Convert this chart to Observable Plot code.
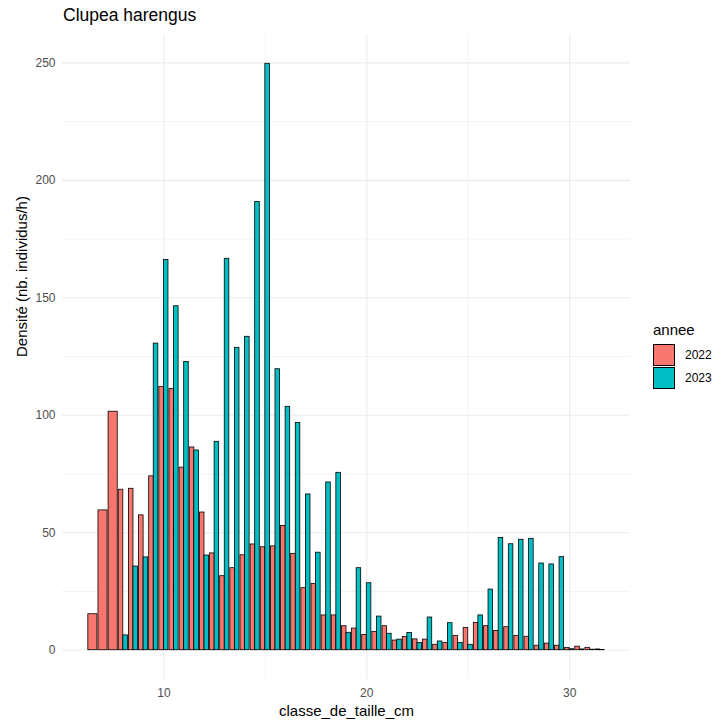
<!DOCTYPE html>
<html>
<head>
<meta charset="utf-8">
<script src="https://cdn.jsdelivr.net/npm/d3@7"></script>
<script src="https://cdn.jsdelivr.net/npm/@observablehq/plot@0.6"></script>
<style>
  html, body { margin: 0; padding: 0; background: #fff; }
  #wrap { position: relative; width: 716px; height: 722px; font-family: "Liberation Sans", Arial, sans-serif; }
  #title { height: 30px; position: relative; }
  #title span { position: absolute; left: 63px; top: 7px; font-size: 17.5px; line-height: 1; color: #000; }
  #legend { position: absolute; left: 653px; top: 322px; }
  #legend .lt { font-size: 15px; line-height: 1; color: #000; margin-bottom: 6px; }
  #legend .row { display: flex; align-items: center; height: 23px; }
  #legend .key { width: 22px; height: 22px; box-sizing: border-box; border: 0.8px solid #000; }
  #legend .lab { font-size: 12px; margin-left: 10px; color: #000; }
</style>
</head>
<body>
<div id="wrap">
  <div id="title"><span>Clupea harengus</span></div>
  <div id="chart"></div>
  <div id="legend"></div>
</div>
<script>
const titleText = "Clupea harengus";
const xLabel = "classe_de_taille_cm";
const yLabel = "Densité (nb. individus/h)";
const legendTitle = "annee";
const years = ["2022", "2023"];
const colors = ["#F8766D", "#00BFC4"];

const classes = [6.5, 7, 7.5, 8, 8.5, 9, 9.5, 10, 10.5, 11, 11.5, 12, 12.5, 13, 13.5, 14, 14.5, 15, 15.5, 16, 16.5,
  17, 17.5, 18, 18.5, 19, 19.5, 20, 20.5, 21, 21.5, 22, 22.5, 23, 23.5, 24, 24.5, 25, 25.5, 26, 26.5,
  27, 27.5, 28, 28.5, 29, 29.5, 30, 30.5, 31, 31.5];

const values2022 = [15.3, 59.5, 101.5, 68.3, 68.7, 57.4, 74.0, 112.0, 111.2, 77.7, 86.3, 58.6, 41.2, 31.5, 34.9, 40.4, 45.0, 43.8, 44.2, 52.9, 41.0,
  26.4, 28.2, 14.8, 14.8, 10.2, 9.2, 6.5, 7.8, 10.2, 4.1, 5.6, 4.6, 4.5, 2.3, 3.1, 6.1, 9.4, 11.6, 10.2, 8.2,
  9.8, 6.1, 5.7, 1.9, 2.8, 1.9, 0.9, 1.5, 1.0, 0.3];

const values2023 = [null, null, null, 6.3, 35.6, 39.5, 130.5, 166.1, 146.4, 122.7, 85.0, 40.3, 88.7, 166.6, 128.7, 133.4, 190.8, 249.6, 119.6, 103.6, 96.7,
  66.3, 41.5, 71.4, 75.5, 7.4, 34.9, 28.5, 14.3, 7.0, 4.5, 7.3, 3.1, 13.9, 3.7, 11.5, 3.1, 2.3, 14.8, 25.8, 47.8,
  45.1, 47.0, 47.4, 36.9, 36.5, 39.6, 0.4, 0.3, 0.2, 0.1];

const yTicks = [0, 50, 100, 150, 200, 250];
const yMinor = [25, 75, 125, 175, 225];
const xTicks = [10, 20, 30];
const xMinor = [15, 25];

// Build dodged table (ggplot-style: single group takes full width)
const half = 0.225;
const table = [];
classes.forEach((c, i) => {
  const a = values2022[i], b = values2023[i];
  const both = a != null && b != null;
  if (a != null) table.push({annee: "2022", value: a, x1: c - half, x2: both ? c : c + half});
  if (b != null) table.push({annee: "2023", value: b, x1: both ? c : c - half, x2: c + half});
});

const xmin = d3.min(classes) - half, xmax = d3.max(classes) + half;
const xpad = (xmax - xmin) * 0.05;
const ymax = d3.max([...values2022, ...values2023]);
const ypad = ymax * 0.05;

const font = '"Liberation Sans", Arial, sans-serif';

const chart = Plot.plot({
  width: 716,
  height: 692,
  marginTop: 4,
  marginBottom: 43,
  marginLeft: 62,
  marginRight: 86,
  style: {fontFamily: font, background: "#fff", overflow: "visible"},
  x: {domain: [xmin - xpad, xmax + xpad], ticks: xTicks},
  y: {domain: [-ypad, ymax + ypad], ticks: yTicks},
  color: {domain: years, range: colors},
  marks: [
    Plot.ruleY(yMinor, {stroke: "#EBEBEB", strokeWidth: 0.6}),
    Plot.ruleX(xMinor, {stroke: "#EBEBEB", strokeWidth: 0.6}),
    Plot.ruleY(yTicks, {stroke: "#EBEBEB", strokeWidth: 1.1}),
    Plot.ruleX(xTicks, {stroke: "#EBEBEB", strokeWidth: 1.1}),
    Plot.rectY(table, {x1: "x1", x2: "x2", y: "value", fill: "annee", stroke: "#000", strokeWidth: 0.8}),
    Plot.axisY({ticks: yTicks, tickSize: 0, tickPadding: 7, label: null, fontSize: 12, color: "#4D4D4D"}),
    Plot.axisX({ticks: xTicks, tickSize: 0, tickPadding: 9, label: null, fontSize: 12, color: "#4D4D4D"}),
    Plot.text([xLabel], {frameAnchor: "bottom", dy: 32, text: d => d, fontSize: 15, fill: "#000", lineAnchor: "middle"}),
    Plot.text([yLabel], {frameAnchor: "left", dx: -40, rotate: -90, text: d => d, fontSize: 15, fill: "#000", lineAnchor: "middle"})
  ]
});
document.getElementById("chart").appendChild(chart);

document.querySelector("#title span").textContent = titleText;
const lg = document.getElementById("legend");
const lt = document.createElement("div");
lt.className = "lt";
lt.textContent = legendTitle;
lg.appendChild(lt);
years.forEach((y, i) => {
  const row = document.createElement("div");
  row.className = "row";
  const k = document.createElement("div");
  k.className = "key";
  k.style.background = colors[i];
  const l = document.createElement("span");
  l.className = "lab";
  l.textContent = y;
  row.appendChild(k);
  row.appendChild(l);
  lg.appendChild(row);
});
</script>
</body>
</html>
